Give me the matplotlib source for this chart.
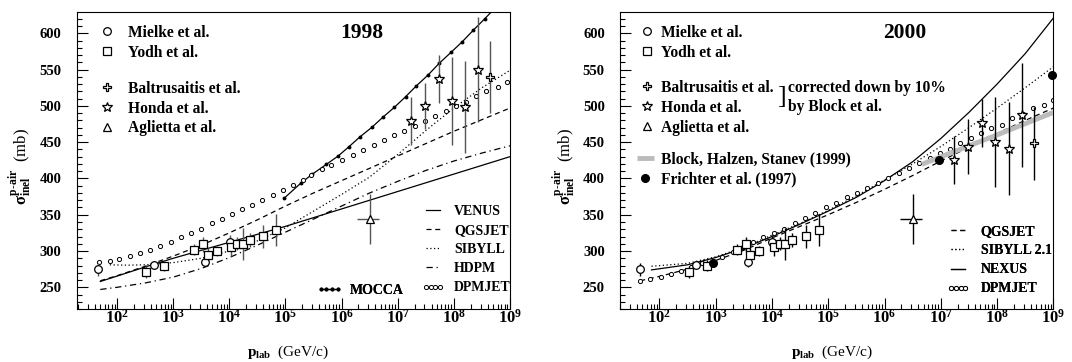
import numpy as np
import matplotlib
matplotlib.use('Agg')
import matplotlib.pyplot as plt
from matplotlib.ticker import MultipleLocator, LogLocator, FixedLocator, FuncFormatter, NullFormatter

plt.rcParams['font.family'] = ['Liberation Serif', 'DejaVu Serif']
plt.rcParams['font.weight'] = 'bold'
plt.rcParams['mathtext.fontset'] = 'custom'
plt.rcParams['mathtext.rm'] = 'Liberation Serif:bold'
plt.rcParams['mathtext.bf'] = 'Liberation Serif:bold'
plt.rcParams['mathtext.it'] = 'Liberation Serif:bold'

# ---- measurements (p_lab in GeV/c, sigma in mb) ----
mielke_p = [46, 455, 3700, 10200]
mielke_s = [275, 281, 285.5, 312]
mielke_err = [9, 5, 8, 10]

yodh_p = [330, 690, 2350, 3400, 4100, 6000, 10800, 13900, 17200, 23000, 40000, 69000]
yodh_s = [271.5, 280, 302, 309, 295, 300, 305, 310, 310, 315.5, 320.5, 329]
yodh_err = [8, 7, 8, 10, 9, 7, 12, 9, 22, 10, 16, 22]

aglietta_p = [3.2e6]
aglietta_s = [344]
aglietta_err = [35]
aglietta_xlo = [1.3e6]
aglietta_xhi = [1.4e6]

honda_p = [1.74e7, 3.1e7, 5.4e7, 9.1e7, 1.6e8, 2.75e8]
honda_s_1998 = [479.5, 500, 537, 507, 498.5, 550]
honda_err_1998 = [33, 32, 33, 61, 64, 72]
honda_s_2000 = [425, 443.5, 476.5, 450, 441, 487.5]
honda_err_2000 = [33, 38, 33, 62, 64, 72]

balt_p = [4.5e8]
balt_s_1998 = [540]
balt_s_2000 = [448.5]
balt_err = [50]

frichter_p = [900, 9.3e6, 9.3e8]
frichter_s = [284, 426, 542]

block_p = [4.6e6, 1e8, 1e9]
block_s = [419.5, 460, 491]

decades = [2, 3, 4, 5, 6, 7, 8, 9]

# ---- model curves, 1998 panel (log10 p_lab) ----
venus_lg = [1.7, 2.5, 3.0, 3.5, 4.0, 4.5, 5.0, 5.5, 6.0, 6.5, 7.0, 7.5, 8.0, 8.5, 9.0]
venus_s = [258, 278, 290, 301, 312, 323, 334, 346, 358, 370, 382, 394, 406, 418, 430]

qgs98_lg = [1.7, 2.0, 2.5, 3.0, 3.5, 4.0, 4.5, 5.0, 5.5, 6.0, 6.5, 7.0, 7.5, 8.0, 8.5, 9.0]
qgs98_s = [259, 266, 279, 293, 308, 325, 343, 362, 380, 397, 414, 431, 448, 465, 481, 497]

sib98_lg = [1.87, 2.2, 2.5, 3.0, 3.5, 4.0, 4.5, 5.0, 5.5, 6.0, 6.5, 7.0, 7.5, 8.0, 8.5, 9.0]
sib98_s = [281, 280.5, 281, 284, 290, 300, 314, 332, 355, 378, 402, 433, 466, 497, 525, 549]

hdpm_lg = [1.7, 2.0, 2.5, 3.0, 3.5, 4.0, 4.5, 5.0, 5.5, 6.0, 6.5, 7.0, 7.5, 8.0, 8.5, 9.0]
hdpm_s = [247, 250, 256, 264, 276, 291, 308, 326, 344, 362, 380, 396, 411, 424, 435, 445]

mocca_lg = [4.98, 5.28, 5.48, 5.73, 5.94, 6.13, 6.33, 6.54, 6.73, 6.94, 7.14, 7.33,
            7.54, 7.74, 7.95, 8.15, 8.35, 8.55, 8.75]
mocca_s = [373, 394, 406, 419.5, 431, 443.7, 457.5, 470.5, 484, 498, 512.6, 527.4,
           542.5, 558.7, 573.8, 588.4, 604.5, 620, 636]

dpm98_lg = [1.68, 1.87, 2.04, 2.23, 2.41, 2.59, 2.76, 2.96, 3.14, 3.32, 3.50, 3.69, 3.86,
            4.04, 4.22, 4.40, 4.59, 4.77, 4.95, 5.13, 5.32, 5.46, 5.65, 5.82, 6.00, 6.20,
            6.38, 6.57, 6.75, 6.93, 7.12, 7.30, 7.49, 7.67, 7.86, 8.04, 8.22, 8.40, 8.58,
            8.78, 8.95]
dpm98_s = [284.4, 286, 289, 293, 297.7, 302, 307, 312, 318.9, 325.3, 331, 338, 344,
           350.6, 357.4, 364, 370, 377, 384, 391, 398, 405.2, 412.6, 418.5, 425.4, 432.3,
           439.2, 445.7, 453, 459.9, 465.8, 472.7, 479.6, 486, 492.9, 499.8, 505.7, 513.6,
           520.5, 526.4, 533.3]

# ---- model curves, 2000 panel ----
qgs00_lg = [1.66, 2.0, 2.5, 3.0, 3.5, 4.0, 4.5, 5.0, 5.5, 6.0, 6.5, 7.0, 7.5, 8.0, 8.5, 9.0]
qgs00_s = [259, 265, 275, 287, 301, 318, 334, 350, 367, 385, 404, 424, 443, 462, 480, 497]

sib00_lg = [1.86, 2.5, 3.0, 3.5, 4.0, 4.5, 5.0, 5.5, 6.0, 6.5, 7.0, 7.5, 8.0, 8.5, 9.0]
sib00_s = [279, 283, 292, 305, 322, 338, 356, 376, 398, 420, 444, 470, 497, 525, 554]

nexus_lg = [1.86, 2.5, 3.0, 3.5, 4.0, 4.5, 5.0, 5.5, 6.0, 6.5, 7.0, 7.5, 8.0, 8.5, 9.0]
nexus_s = [274, 281, 291, 304, 320, 337, 355, 374, 397, 423, 455, 491, 530, 572, 621]

dpm00_lg = [1.66, 1.84, 2.02, 2.21, 2.39, 2.56, 2.75, 2.95, 3.12, 3.30, 3.49, 3.67, 3.84,
            4.04, 4.22, 4.41, 4.59, 4.77, 4.96, 5.14, 5.33, 5.51, 5.69, 5.88, 6.06, 6.25,
            6.43, 6.62, 6.80, 6.98, 7.17, 7.35, 7.54, 7.72, 7.90, 8.09, 8.27, 8.46, 8.64,
            8.83, 9.0]
dpm00_s = [259, 261, 264.7, 268.4, 273, 278.5, 283, 286, 292, 298.7, 306, 312.4, 318.9,
           324.4, 331, 338, 346, 352.9, 360, 366.6, 374, 380.4, 387.3, 394.2, 401, 407,
           414, 421, 427.7, 434.6, 440, 448.4, 456, 462, 469, 473.7, 482.9, 488.4, 496.6,
           501, 508]


def p(lg):
    return 10.0 ** np.asarray(lg)


def style_axes(ax, xmin):
    ax.set_xscale('log')
    ax.set_xlim(xmin, 1e9)
    ax.set_ylim(219.7, 629.4)
    ax.xaxis.set_major_locator(FixedLocator(p(decades)))
    ax.xaxis.set_minor_locator(LogLocator(base=10, subs=np.arange(2, 10), numticks=20))
    ax.xaxis.set_major_formatter(FuncFormatter(lambda v, pos: r'$10^{%d}$' % round(np.log10(v))))
    ax.xaxis.set_minor_formatter(NullFormatter())
    ax.yaxis.set_major_locator(MultipleLocator(50))
    ax.yaxis.set_minor_locator(MultipleLocator(10))
    ax.tick_params(which='both', direction='in', top=False, right=False, width=0.8)
    ax.tick_params(which='major', length=8)
    ax.tick_params(which='minor', length=3.5)
    ax.tick_params(axis='x', which='major', labelsize=12, pad=0)
    ax.tick_params(axis='y', which='major', labelsize=10.5, pad=11)
    for s in ax.spines.values():
        s.set_linewidth(0.8)
    ax.set_xlabel(r'$\text{p}_{\text{lab}}$  (GeV/c)', fontsize=11)
    ax.xaxis.set_label_coords(0.489, -0.115)
    ax.set_ylabel(r'$\sigma^{\text{p-air}}_{\text{inel}}$  (mb)', fontsize=12, va='center')
    ax.yaxis.set_label_coords(-0.131, 0.48)


def put_legend(ax, handles, labels, x, y, fs, hl, pad, spacing=0.25, ncol=1, npts=1):
    leg = ax.legend(handles, labels, loc='upper left', bbox_to_anchor=(x, y),
                    frameon=False, prop={'size': fs, 'weight': 'bold'},
                    handlelength=hl, handletextpad=pad, labelspacing=spacing,
                    borderpad=0, borderaxespad=0, ncol=ncol, numpoints=npts)
    ax.add_artist(leg)
    return leg


def data_points(ax, honda_s, honda_err, balt_s, ecol):
    eb = dict(fmt='none', ecolor=ecol, elinewidth=1.0, capsize=0, zorder=4)
    ax.errorbar(mielke_p, mielke_s, yerr=mielke_err, **eb)
    ax.errorbar(yodh_p, yodh_s, yerr=yodh_err, **eb)
    ax.errorbar(honda_p, honda_s, yerr=honda_err, **eb)
    ax.errorbar(balt_p, balt_s, yerr=balt_err, **eb)
    ax.errorbar(aglietta_p, aglietta_s, yerr=aglietta_err,
                xerr=[aglietta_xlo, aglietta_xhi], **eb)
    mk = dict(ls='none', mfc='white', mec='black', mew=0.9, zorder=5)
    h_m, = ax.plot(mielke_p, mielke_s, marker='o', ms=5.5, **mk)
    h_y, = ax.plot(yodh_p, yodh_s, marker='s', ms=6, **mk)
    h_b, = ax.plot(balt_p, balt_s, marker='P', ms=6.2, **mk)
    h_h, = ax.plot(honda_p, honda_s, marker='*', ms=7, **mk)
    h_a, = ax.plot(aglietta_p, aglietta_s, marker='^', ms=6, **mk)
    return h_m, h_y, h_b, h_h, h_a


fig = plt.figure(figsize=(10.72, 3.62), dpi=100)
ax1 = fig.add_axes([0.0715, 0.1456, 0.4042, 0.8213])
ax2 = fig.add_axes([0.5784, 0.1456, 0.4042, 0.8213])

# ---------------- 1998 ----------------
lw = 0.9
h_ven, = ax1.plot(p(venus_lg), venus_s, color='black', lw=lw)
h_qgs, = ax1.plot(p(qgs98_lg), qgs98_s, color='black', lw=lw, ls=(0, (4, 3)))
h_sib, = ax1.plot(p(sib98_lg), sib98_s, color='black', lw=lw, ls=(0, (1, 2)))
h_hdp, = ax1.plot(p(hdpm_lg), hdpm_s, color='black', lw=lw, ls=(0, (5, 3, 1, 3)))
h_moc, = ax1.plot(p(mocca_lg), mocca_s, color='black', lw=lw, marker='o', ms=1.8)
h_dpm, = ax1.plot(p(dpm98_lg), dpm98_s, ls='none', marker='o', ms=3, mfc='white',
                  mec='black', mew=0.7)
hm, hy, hb, hh, ha = data_points(ax1, honda_s_1998, honda_err_1998, balt_s_1998, '#555555')
style_axes(ax1, 19)
ax1.text(0.658, 0.928, '1998', transform=ax1.transAxes, ha='center', va='center',
         fontsize=15.5, fontweight='bold')

put_legend(ax1, [hm, hy], ['Mielke et al.', 'Yodh et al.'], 0.0548, 0.957, 11.2, 0.8, 0.98)
put_legend(ax1, [hb, hh, ha], ['Baltrusaitis et al.', 'Honda et al.', 'Aglietta et al.'],
           0.0548, 0.769, 11.2, 0.8, 0.98)
put_legend(ax1, [h_ven, h_qgs, h_sib, h_hdp, h_dpm],
           ['VENUS', 'QGSJET', 'SIBYLL', 'HDPM', 'DPMJET'],
           0.797, 0.351, 10, 1.6, 0.72, spacing=0.44, npts=4)
put_legend(ax1, [h_moc], ['MOCCA'], 0.554, 0.086, 10, 1.8, 0.6, npts=4)

# ---------------- 2000 ----------------
g_qgs, = ax2.plot(p(qgs00_lg), qgs00_s, color='black', lw=lw, ls=(0, (4, 3)))
g_sib, = ax2.plot(p(sib00_lg), sib00_s, color='black', lw=lw, ls=(0, (1, 2)))
g_nex, = ax2.plot(p(nexus_lg), nexus_s, color='black', lw=lw)
g_dpm, = ax2.plot(p(dpm00_lg), dpm00_s, ls='none', marker='o', ms=3, mfc='white',
                  mec='black', mew=0.7)
g_blk, = ax2.plot(block_p, block_s, color='#bbbbbb', lw=3.5, solid_capstyle='butt', zorder=3)
g_fri, = ax2.plot(frichter_p, frichter_s, ls='none', marker='o', ms=5.5, color='black',
                  zorder=6, clip_on=False)
gm, gy, gb, gh, ga = data_points(ax2, honda_s_2000, honda_err_2000, balt_s_2000, 'black')
style_axes(ax2, 20)
ax2.text(0.658, 0.928, '2000', transform=ax2.transAxes, ha='center', va='center',
         fontsize=15.5, fontweight='bold')

put_legend(ax2, [gm, gy], ['Mielke et al.', 'Yodh et al.'], 0.047, 0.957, 11.2, 0.8, 0.52)
put_legend(ax2, [gb, gh, ga], ['Baltrusaitis et al.', 'Honda et al.', 'Aglietta et al.'],
           0.047, 0.772, 11.2, 0.8, 0.52)
put_legend(ax2, [g_blk, g_fri], ['Block, Halzen, Stanev (1999)', 'Frichter et al. (1997)'],
           0.039, 0.531, 11.2, 1.09, 0.45)
put_legend(ax2, [g_qgs, g_sib, g_nex, g_dpm], ['QGSJET', 'SIBYLL 2.1', 'NEXUS', 'DPMJET'],
           0.755, 0.283, 10, 1.6, 0.8, spacing=0.44, npts=4)
ax2.text(0.383, 0.715, ']', transform=ax2.transAxes, ha='right', va='center',
         fontsize=19, fontweight='normal')
ax2.text(0.388, 0.743, 'corrected down by 10%', transform=ax2.transAxes, ha='left',
         va='center', fontsize=11.2, fontweight='bold')
ax2.text(0.388, 0.681, 'by Block et al.', transform=ax2.transAxes, ha='left',
         va='center', fontsize=11.2, fontweight='bold')

fig.savefig('out.png', dpi=100)
